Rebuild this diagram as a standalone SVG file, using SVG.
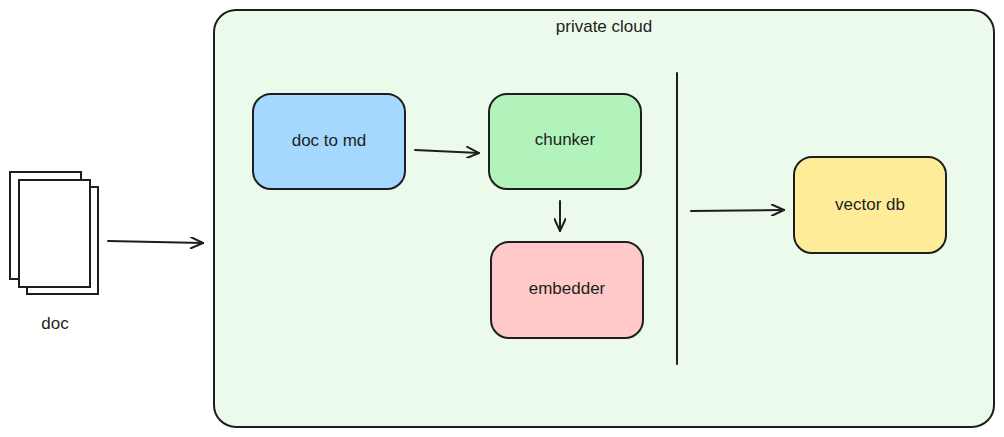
<svg xmlns="http://www.w3.org/2000/svg" width="1004" height="437" viewBox="0 0 1004 437">
<style>
.n{stroke:#1e1e1e;stroke-width:2}
.t{font-family:"Liberation Sans",Arial,sans-serif;font-size:17px;fill:#1e1e1e;text-anchor:middle;dominant-baseline:middle}
.c{stroke:#1e1e1e;stroke-width:2;fill:none;stroke-linecap:round}
</style>
<defs><marker id="a" markerWidth="14" markerHeight="12" refX="13" refY="6" orient="auto" markerUnits="userSpaceOnUse"><path d="M0,0 L13,6 L0,12" fill="none" stroke="#1e1e1e" stroke-width="2"/></marker></defs>
<rect width="1004" height="437" fill="#fff"/>
<g id="cloud"><rect class="n" x="214" y="10" width="780" height="417" rx="22" fill="#ebfaeb"/><text class="t" x="604" y="28">private cloud</text></g>
<g id="doc"><rect class="n" x="10" y="172" width="71" height="107" fill="#fff"/><rect class="n" x="27" y="187" width="71" height="107" fill="#fff"/><rect class="n" x="19" y="180" width="71" height="107" fill="#fff"/><text class="t" x="55" y="325">doc</text></g>
<g id="doctomd"><rect class="n" x="253" y="94" width="152" height="95" rx="18" fill="#a5d8ff"/><text class="t" x="329" y="142">doc to md</text></g>
<g id="chunker"><rect class="n" x="489" y="94" width="152" height="95" rx="18" fill="#b2f2bb"/><text class="t" x="565" y="141">chunker</text></g>
<g id="embedder"><rect class="n" x="491" y="242" width="152" height="96" rx="18" fill="#ffc9c9"/><text class="t" x="567" y="290">embedder</text></g>
<g id="vectordb"><rect class="n" x="794" y="157" width="152" height="96" rx="18" fill="#ffec99"/><text class="t" x="870" y="206">vector db</text></g>
<g id="divider"><line class="c" x1="677" y1="73" x2="677" y2="364" stroke-width="3"/></g>
<g id="connectors">
<line class="c" x1="108" y1="241" x2="203" y2="243" marker-end="url(#a)"/>
<line class="c" x1="415" y1="150" x2="479" y2="153" marker-end="url(#a)"/>
<line class="c" x1="560" y1="201" x2="560" y2="231" marker-end="url(#a)"/>
<line class="c" x1="691" y1="211" x2="784" y2="210" marker-end="url(#a)"/>
</g>
</svg>
